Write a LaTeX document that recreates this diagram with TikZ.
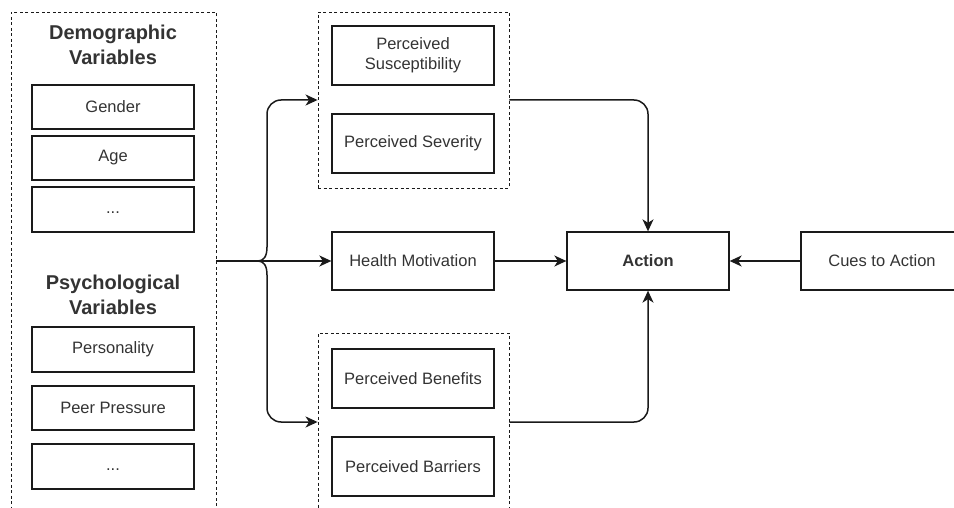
\documentclass[tikz,border=0pt]{standalone}
\usepackage{fontspec}
\setmainfont{Liberation Sans}
\usetikzlibrary{arrows.meta}
\definecolor{txt}{HTML}{333333}
\definecolor{ln}{HTML}{1A1A1A}
\tikzset{
  box/.style={draw=ln, line width=1.3pt, text=txt, minimum width=162pt, align=center,
              font=\fontsize{16.5}{20}\selectfont, inner sep=0pt},
  grp/.style={draw=ln, line width=0.9pt, dash pattern=on 3pt off 2.5pt, minimum width=191pt, inner sep=0pt},
  head/.style={text=txt, align=center, font=\fontsize{20}{25}\selectfont\bfseries},
  conn/.style={draw=ln, line width=1.5pt},
  arr/.style={conn, -{Stealth[length=12pt,width=11pt,inset=3.5pt]}},
}
\begin{document}
\begin{tikzpicture}[x=1pt,y=-1pt]
\useasboundingbox (0,0) rectangle (954,508);
\clip (0,0) rectangle (954,508);
% left dashed container
\node[grp, minimum width=205pt, minimum height=498pt] (left) at (113.5,261) {};
\node[head] (demo) at (113,45) {Demographic\\Variables};
\node[box, minimum height=44pt] (gender) at (113,107) {Gender};
\node[box, minimum height=44pt] (age) at (113,158) {Age};
\node[box, minimum height=45pt] (dots1) at (113,209.5) {\vphantom{Ag}...};
\node[head] (psych) at (113,295) {Psychological\\Variables};
\node[box, minimum height=45pt] (pers) at (113,349.5) {Personality};
\node[box, minimum height=44pt] (peer) at (113,408) {Peer Pressure};
\node[box, minimum height=45pt] (dots2) at (113,466.5) {\vphantom{Ag}...};
% groups
\node[grp, minimum height=176pt] (topgrp) at (413.5,100) {};
\node[box, minimum height=59pt] (susc) at (413,55.5) {Perceived\\Susceptibility};
\node[box, minimum height=59pt] (sev) at (413,143.5) {Perceived Severity};
\node[grp, minimum height=178pt] (botgrp) at (413.5,422) {};
\node[box, minimum height=59pt] (ben) at (413,378.5) {Perceived Benefits};
\node[box, minimum height=59pt] (bar) at (413,466.5) {Perceived Barriers};
\node[box, minimum height=58pt] (hm) at (413,261) {Health Motivation};
\node[box, minimum height=58pt, font=\fontsize{16.5}{20}\selectfont\bfseries] (action) at (648,261) {Action};
\node[box, minimum height=58pt] (cues) at (882,261) {Cues to Action};
% brace and connectors
\coordinate (bt) at (267,247);
\coordinate (bb) at (267,275);
\coordinate (cusp) at (258,261);
\draw[arr] (left.east) -- (hm.west);
\draw[arr, rounded corners=14pt] (bt) |- (topgrp.west);
\draw[arr, rounded corners=14pt] (bb) |- (botgrp.west);
\draw[conn] (bt) .. controls (267,256) and (264,261) .. (cusp);
\draw[conn] (bb) .. controls (267,266) and (264,261) .. (cusp);
\draw[arr] (hm.east) -- (action.west);
\draw[arr] (cues.west) -- (action.east);
\draw[arr, rounded corners=14pt] (topgrp.east) -| (action.north);
\draw[arr, rounded corners=14pt] (botgrp.east) -| (action.south);
\end{tikzpicture}
\end{document}
